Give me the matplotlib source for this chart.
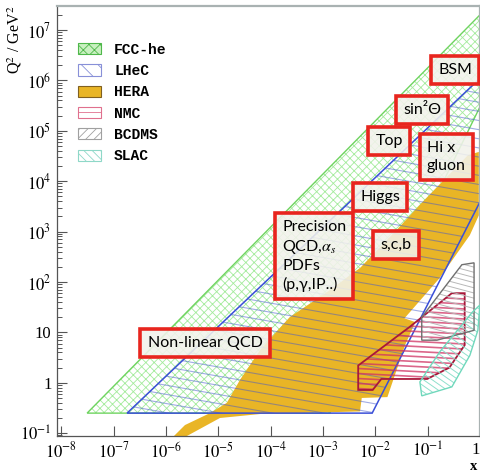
import numpy as np
import matplotlib
matplotlib.use('Agg')
import matplotlib.pyplot as plt
from matplotlib.patches import Polygon, Patch
from matplotlib.collections import LineCollection

plt.rcParams['mathtext.fontset'] = 'stix'
plt.rcParams['hatch.linewidth'] = 0.6

# kinematic regions (x, Q2 in GeV^2)
fcc_x = [3.1e-8, 1.0, 1.0, 1.35e-3]
fcc_q2 = [0.25, 2e7, 3e5, 0.25]

lhec_x = [1.8e-7, 1.0, 1.0, 8.7e-3]
lhec_q2 = [0.25, 1.1e6, 3.9e3, 0.25]

hera_x = [0.95, 0.59, 0.071, 0.026, 5.1e-3, 1.35e-3, 2.3e-4, 6.3e-5, 2.6e-5, 1.45e-5,
          6.9e-6, 2.3e-6, 1.2e-6, 1.85e-6, 1.07e-5, 6.3e-5, 5.1e-3, 5.5e-3, 0.017, 0.037,
          0.058, 0.036, 0.17, 0.64, 0.95]
hera_q2 = [3.8e4, 3.3e4, 3.4e3, 1.1e3, 190, 69, 20, 4.5, 1.15, 0.40,
           0.25, 0.145, 0.074, 0.074, 0.20, 0.24, 0.27, 0.50, 0.52, 5.6,
           16, 19, 120, 850, 2.1e3]

nmc_x = [4.7e-3, 0.046, 0.29, 0.51, 0.51, 0.26, 0.098, 0.013, 8.9e-3, 4.7e-3]
nmc_q2 = [2.2, 13, 60, 60, 5.6, 2.0, 1.19, 1.19, 0.72, 0.72]

bcdms_x = [0.077, 0.45, 0.77, 0.77, 0.15, 0.077]
bcdms_q2 = [20, 220, 240, 11, 7, 7]

slac_x = [0.071, 0.077, 0.29, 0.64, 0.91, 1.0, 0.71, 0.17]
slac_q2 = [1.04, 0.55, 0.83, 3.5, 11, 35, 25, 4.1]

x_ticks = [1e-8, 1e-7, 1e-6, 1e-5, 1e-4, 1e-3, 1e-2, 1e-1, 1]
x_labels = [r'$10^{-8}$', r'$10^{-7}$', r'$10^{-6}$', r'$10^{-5}$', r'$10^{-4}$',
            r'$10^{-3}$', r'$10^{-2}$', r'$10^{-1}$', '1']
y_ticks = [1e-1, 1, 10, 1e2, 1e3, 1e4, 1e5, 1e6, 1e7]
y_labels = [r'$10^{-1}$', '1', '10', r'$10^{2}$', r'$10^{3}$', r'$10^{4}$',
            r'$10^{5}$', r'$10^{6}$', r'$10^{7}$']

legend_names = ['FCC-he', 'LHeC', 'HERA', 'NMC', 'BCDMS', 'SLAC']

topics = ['BSM', 'sin²Θ', 'Top', 'Hi x\ngluon', 'Higgs',
          'Precision\nQCD,$\\alpha_s$\nPDFs\n(p,γ,IP..)', 's,c,b', 'Non-linear QCD']
topic_pos = [(0.941, 0.851), (0.863, 0.758), (0.785, 0.686), (0.920, 0.649),
             (0.764, 0.556), (0.608, 0.419), (0.801, 0.444), (0.350, 0.216)]

fig = plt.figure(figsize=(4.81, 4.72), dpi=100)
ax = fig.add_axes([57 / 481, 36 / 472, 423 / 481, 430 / 472])
ax.set_xscale('log')
ax.set_yscale('log')
ax.set_xlim(10 ** -8.084, 1.0)
ax.set_ylim(10 ** -1.056, 10 ** 7.476)

W, H = 423.0, 430.0


def hatch_lines(patch, angle, step, color, lw=0.8, alpha=1.0, z=2):
    # parallel lines across the axes, clipped to the patch
    t = np.tan(np.radians(angle))
    offs = np.arange(-W - H, W + H, step / np.cos(np.radians(angle)))
    segs = [[(0, c / H), (1, (c + t * W) / H)] for c in offs]
    lc = LineCollection(segs, transform=ax.transAxes, colors=color,
                        linewidths=lw, alpha=alpha, zorder=z)
    lc.set_clip_path(patch)
    ax.add_collection(lc, autolim=False)


def region(xs, qs, edge, lw, z):
    p = Polygon(np.c_[xs, qs], closed=True, fc='none', ec='none', zorder=z)
    ax.add_patch(p)
    ax.add_patch(Polygon(np.c_[xs, qs], closed=True, fc='none', ec=edge, lw=lw, zorder=z + 0.1))
    return p


# FCC-he
ax.add_patch(Polygon(np.c_[fcc_x, fcc_q2], closed=True, fc='none', ec='#a4eb9c',
                     lw=0, hatch='xxxx', zorder=1))
ax.add_patch(Polygon(np.c_[fcc_x, fcc_q2], closed=True, fc='none', ec='#6fd460', lw=1, zorder=1.1))

# HERA
ax.add_patch(Polygon(np.c_[hera_x, hera_q2], closed=True, fc='#e9b526', ec='none', zorder=1.5))

# LHeC
lhec = Polygon(np.c_[lhec_x, lhec_q2], closed=True, fc='none', ec='none', zorder=2)
ax.add_patch(lhec)
hatch_lines(lhec, -10, 9, '#4458cc', lw=0.8, alpha=0.5)
ax.add_patch(Polygon(np.c_[lhec_x, lhec_q2], closed=True, fc='none', ec='#3a4fd8', lw=1.1, zorder=2.1))

# NMC
nmc = region(nmc_x, nmc_q2, '#a8183a', 1.3, 3)
hatch_lines(nmc, -3, 5, '#cf3363', lw=1.2, alpha=0.75, z=3.05)

# BCDMS
bcd = region(bcdms_x, bcdms_q2, '#707070', 1.0, 3.2)
hatch_lines(bcd, -15, 5, '#b8b8b8', lw=0.7, z=3.2)

# SLAC
slac = region(slac_x, slac_q2, '#70d8bc', 1.0, 3.2)
hatch_lines(slac, -35, 5, '#8fe0cc', lw=0.7, z=3.2)

# topic boxes
for s, (fx, fy) in zip(topics, topic_pos):
    ax.text(fx, fy, s, transform=ax.transAxes, ha='center', va='center',
            multialignment='left', fontsize=11.5, family=['Lato', 'DejaVu Sans'],
            linespacing=1.3, zorder=10,
            bbox=dict(boxstyle='square,pad=0.45', fc=(0.95, 0.95, 0.92, 0.88),
                      ec='#e8251e', lw=2.6))

# legend
handles = [
    Patch(fc='#c8f0c0', ec='#4fb84a', hatch='xxx', lw=0.8),
    Patch(fc='white', ec='#8890d8', hatch='\\\\', lw=0.8),
    Patch(fc='#e9b526', ec='#806020', lw=0.8),
    Patch(fc='white', ec='#e0708e', hatch='--', lw=0.8),
    Patch(fc='white', ec='#a0a0a0', hatch='////', lw=0.8),
    Patch(fc='white', ec='#8fd8c8', hatch='\\\\\\\\', lw=0.8),
]
ax.legend(handles, legend_names, loc='upper left', bbox_to_anchor=(0.018, 0.945),
          frameon=False, handlelength=1.6, handleheight=0.8, handletextpad=0.9,
          labelspacing=0.5,
          prop={'family': 'Liberation Mono', 'weight': 'bold', 'size': 10.5})

# axes
ax.set_xticks(x_ticks)
ax.set_xticklabels(x_labels)
ax.set_yticks(y_ticks)
ax.set_yticklabels(y_labels)
ax.tick_params(which='both', direction='in', top=False, right=False, color='#555555')
ax.tick_params(which='major', length=7, width=0.8, labelsize=12, pad=4)
ax.tick_params(which='minor', length=3.5, width=0.7)
for lab in ax.get_xticklabels() + ax.get_yticklabels():
    lab.set_family('Liberation Serif')
ax.get_xticklabels()[-1].set_horizontalalignment('right')
for side in ['top', 'right']:
    ax.spines[side].set_color('#a9b2b2')
    ax.spines[side].set_linewidth(1.6)
for side in ['left', 'bottom']:
    ax.spines[side].set_color('#555555')
    ax.spines[side].set_linewidth(0.9)

fig.text(15 / 481, 1 - 6 / 472, r'Q$^2$ / GeV$^2$', rotation=90, ha='center', va='top',
         fontsize=11.5, family='Liberation Serif')
fig.text(474 / 481, 1 - 466 / 472, 'x', ha='center', va='center', fontsize=10.5,
         family='Liberation Serif', weight='bold')

fig.savefig('out.png', dpi=100)
